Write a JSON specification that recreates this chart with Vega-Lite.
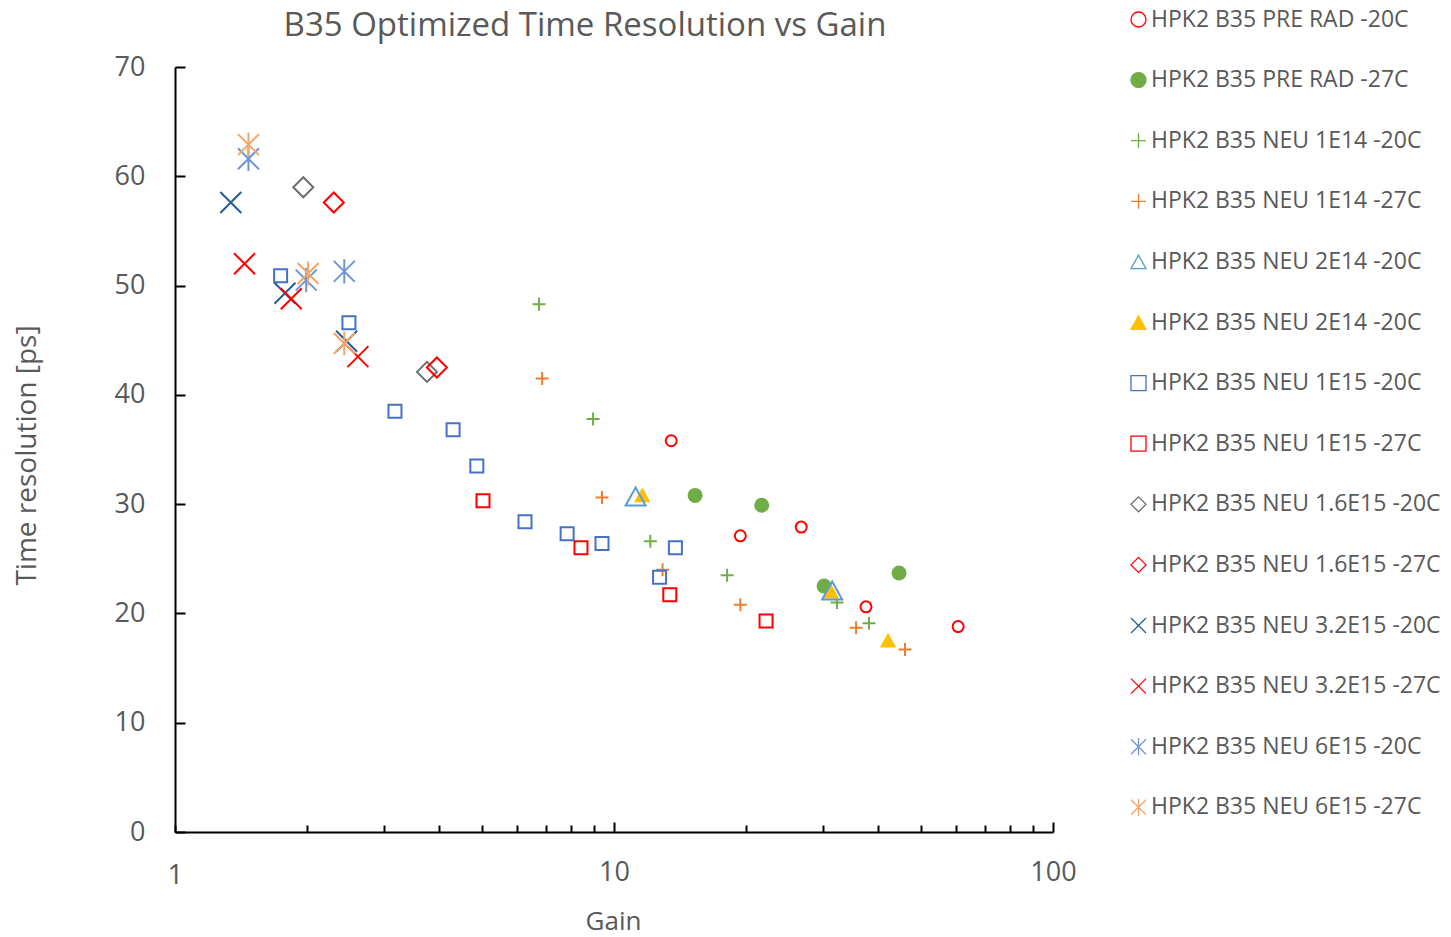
{
  "$schema": "https://vega.github.io/schema/vega-lite/v6.json",
  "autosize": {"type": "none"},
  "width": 878,
  "height": 765,
  "padding": {"left": 175, "top": 67, "right": 398, "bottom": 105},
  "background": "white",
  "title": {
    "text": "B35 Optimized Time Resolution vs Gain",
    "font": "Open Sans",
    "fontSize": 33,
    "fontWeight": "normal",
    "color": "#595959",
    "anchor": "middle",
    "frame": "group",
    "baseline": "alphabetic",
    "offset": -26,
    "dx": -29,
    "dy": 35
  },
  "data": {
    "values": [
      {"key": "01|HPK2 B35 PRE RAD -20C", "gain": 13.5, "res": 35.8},
      {"key": "01|HPK2 B35 PRE RAD -20C", "gain": 19.4, "res": 27.1},
      {"key": "01|HPK2 B35 PRE RAD -20C", "gain": 26.7, "res": 27.9},
      {"key": "01|HPK2 B35 PRE RAD -20C", "gain": 37.5, "res": 20.6},
      {"key": "01|HPK2 B35 PRE RAD -20C", "gain": 60.8, "res": 18.8},
      {"key": "02|HPK2 B35 PRE RAD -27C", "gain": 15.3, "res": 30.8},
      {"key": "02|HPK2 B35 PRE RAD -27C", "gain": 21.7, "res": 29.9},
      {"key": "02|HPK2 B35 PRE RAD -27C", "gain": 30.1, "res": 22.5},
      {"key": "02|HPK2 B35 PRE RAD -27C", "gain": 44.6, "res": 23.7},
      {"key": "03|HPK2 B35 NEU 1E14 -20C", "gain": 6.75, "res": 48.3},
      {"key": "03|HPK2 B35 NEU 1E14 -20C", "gain": 8.96, "res": 37.8},
      {"key": "03|HPK2 B35 NEU 1E14 -20C", "gain": 12.1, "res": 26.6},
      {"key": "03|HPK2 B35 NEU 1E14 -20C", "gain": 18.1, "res": 23.5},
      {"key": "03|HPK2 B35 NEU 1E14 -20C", "gain": 32.2, "res": 21.0},
      {"key": "03|HPK2 B35 NEU 1E14 -20C", "gain": 38.1, "res": 19.1},
      {"key": "04|HPK2 B35 NEU 1E14 -27C", "gain": 6.86, "res": 41.5},
      {"key": "04|HPK2 B35 NEU 1E14 -27C", "gain": 9.39, "res": 30.6},
      {"key": "04|HPK2 B35 NEU 1E14 -27C", "gain": 12.9, "res": 24.0},
      {"key": "04|HPK2 B35 NEU 1E14 -27C", "gain": 19.4, "res": 20.8},
      {"key": "04|HPK2 B35 NEU 1E14 -27C", "gain": 35.6, "res": 18.7},
      {"key": "04|HPK2 B35 NEU 1E14 -27C", "gain": 46.0, "res": 16.7},
      {"key": "05|HPK2 B35 NEU 2E14 -20C", "gain": 11.2, "res": 30.7},
      {"key": "05|HPK2 B35 NEU 2E14 -20C", "gain": 31.4, "res": 22.1},
      {"key": "06|HPK2 B35 NEU 2E14 -20C", "gain": 11.6, "res": 30.8},
      {"key": "06|HPK2 B35 NEU 2E14 -20C", "gain": 31.2, "res": 22.0},
      {"key": "06|HPK2 B35 NEU 2E14 -20C", "gain": 42.1, "res": 17.5},
      {"key": "07|HPK2 B35 NEU 1E15 -20C", "gain": 1.74, "res": 50.9},
      {"key": "07|HPK2 B35 NEU 1E15 -20C", "gain": 2.49, "res": 46.6},
      {"key": "07|HPK2 B35 NEU 1E15 -20C", "gain": 3.17, "res": 38.5},
      {"key": "07|HPK2 B35 NEU 1E15 -20C", "gain": 4.30, "res": 36.8},
      {"key": "07|HPK2 B35 NEU 1E15 -20C", "gain": 4.87, "res": 33.5},
      {"key": "07|HPK2 B35 NEU 1E15 -20C", "gain": 6.27, "res": 28.4},
      {"key": "07|HPK2 B35 NEU 1E15 -20C", "gain": 7.82, "res": 27.3},
      {"key": "07|HPK2 B35 NEU 1E15 -20C", "gain": 9.39, "res": 26.4},
      {"key": "07|HPK2 B35 NEU 1E15 -20C", "gain": 12.7, "res": 23.3},
      {"key": "07|HPK2 B35 NEU 1E15 -20C", "gain": 13.8, "res": 26.0},
      {"key": "08|HPK2 B35 NEU 1E15 -27C", "gain": 5.03, "res": 30.3},
      {"key": "08|HPK2 B35 NEU 1E15 -27C", "gain": 8.41, "res": 26.0},
      {"key": "08|HPK2 B35 NEU 1E15 -27C", "gain": 13.4, "res": 21.7},
      {"key": "08|HPK2 B35 NEU 1E15 -27C", "gain": 22.2, "res": 19.3},
      {"key": "09|HPK2 B35 NEU 1.6E15 -20C", "gain": 1.96, "res": 59.0},
      {"key": "09|HPK2 B35 NEU 1.6E15 -20C", "gain": 3.75, "res": 42.1},
      {"key": "10|HPK2 B35 NEU 1.6E15 -27C", "gain": 2.30, "res": 57.6},
      {"key": "10|HPK2 B35 NEU 1.6E15 -27C", "gain": 3.95, "res": 42.5},
      {"key": "11|HPK2 B35 NEU 3.2E15 -20C", "gain": 1.34, "res": 57.6},
      {"key": "11|HPK2 B35 NEU 3.2E15 -20C", "gain": 1.78, "res": 49.3},
      {"key": "11|HPK2 B35 NEU 3.2E15 -20C", "gain": 2.46, "res": 44.9},
      {"key": "12|HPK2 B35 NEU 3.2E15 -27C", "gain": 1.44, "res": 52.0},
      {"key": "12|HPK2 B35 NEU 3.2E15 -27C", "gain": 1.84, "res": 48.8},
      {"key": "12|HPK2 B35 NEU 3.2E15 -27C", "gain": 2.61, "res": 43.5},
      {"key": "13|HPK2 B35 NEU 6E15 -20C", "gain": 1.47, "res": 61.6},
      {"key": "13|HPK2 B35 NEU 6E15 -20C", "gain": 1.99, "res": 50.5},
      {"key": "13|HPK2 B35 NEU 6E15 -20C", "gain": 2.43, "res": 51.3},
      {"key": "14|HPK2 B35 NEU 6E15 -27C", "gain": 1.47, "res": 62.9},
      {"key": "14|HPK2 B35 NEU 6E15 -27C", "gain": 2.01, "res": 51.1},
      {"key": "14|HPK2 B35 NEU 6E15 -27C", "gain": 2.43, "res": 44.7}
    ]
  },
  "encoding": {
    "x": {
      "field": "gain",
      "type": "quantitative",
      "scale": {"type": "log", "domain": [1, 100], "nice": false},
      "axis": {
        "title": "Gain",
        "values": [1, 2, 3, 4, 5, 6, 7, 8, 9, 10, 20, 30, 40, 50, 60, 70, 80, 90, 100],
        "format": "d",
        "labelFlush": false,
        "labelExpr": "datum.value == 1 || datum.value == 10 || datum.value == 100 ? datum.label : ''",
        "tickSize": {"condition": {"test": "datum.value == 10 || datum.value == 100", "value": -10}, "value": -7},
        "labelPadding": 37,
        "titleX": 438,
        "titleY": 89,
        "titleBaseline": "middle",
        "titleAlign": "center"
      }
    },
    "y": {
      "field": "res",
      "type": "quantitative",
      "scale": {"domain": [0, 70], "nice": false, "zero": true},
      "axis": {
        "title": "Time resolution [ps]",
        "titleFontSize": 28,
        "values": [0, 10, 20, 30, 40, 50, 60, 70],
        "tickSize": -10,
        "labelPadding": 40,
        "titleX": -148,
        "titleY": 388,
        "titleBaseline": "middle",
        "titleAlign": "center"
      }
    },
    "stroke": {
      "field": "key",
      "type": "nominal",
      "scale": {
        "domain": [
          "01|HPK2 B35 PRE RAD -20C", "02|HPK2 B35 PRE RAD -27C", "03|HPK2 B35 NEU 1E14 -20C", "04|HPK2 B35 NEU 1E14 -27C",
          "05|HPK2 B35 NEU 2E14 -20C", "06|HPK2 B35 NEU 2E14 -20C", "07|HPK2 B35 NEU 1E15 -20C", "08|HPK2 B35 NEU 1E15 -27C",
          "09|HPK2 B35 NEU 1.6E15 -20C", "10|HPK2 B35 NEU 1.6E15 -27C", "11|HPK2 B35 NEU 3.2E15 -20C", "12|HPK2 B35 NEU 3.2E15 -27C",
          "13|HPK2 B35 NEU 6E15 -20C", "14|HPK2 B35 NEU 6E15 -27C"
        ],
        "range": ["#FF0000", "#70AD47", "#70AD47", "#ED7D31", "#5B9BD5", "#FFC000", "#4472C4", "#FF0000", "#6E6E6E", "#FF0000", "#255E91", "#FF0000", "#6F95D8", "#F2A66A"]
      },
      "legend": {
        "title": null,
        "orient": "none",
        "legendX": 952,
        "legendY": -59,
        "labelExpr": "split(datum.label, '|')[1]"
      }
    },
    "fill": {
      "field": "key",
      "type": "nominal",
      "scale": {
        "domain": [
          "01|HPK2 B35 PRE RAD -20C", "02|HPK2 B35 PRE RAD -27C", "03|HPK2 B35 NEU 1E14 -20C", "04|HPK2 B35 NEU 1E14 -27C",
          "05|HPK2 B35 NEU 2E14 -20C", "06|HPK2 B35 NEU 2E14 -20C", "07|HPK2 B35 NEU 1E15 -20C", "08|HPK2 B35 NEU 1E15 -27C",
          "09|HPK2 B35 NEU 1.6E15 -20C", "10|HPK2 B35 NEU 1.6E15 -27C", "11|HPK2 B35 NEU 3.2E15 -20C", "12|HPK2 B35 NEU 3.2E15 -27C",
          "13|HPK2 B35 NEU 6E15 -20C", "14|HPK2 B35 NEU 6E15 -27C"
        ],
        "range": ["transparent", "#70AD47", "transparent", "transparent", "transparent", "#FFC000", "transparent", "transparent", "transparent", "transparent", "transparent", "transparent", "transparent", "transparent"]
      },
      "legend": {
        "title": null,
        "orient": "none",
        "legendX": 952,
        "legendY": -59,
        "labelExpr": "split(datum.label, '|')[1]"
      }
    },
    "shape": {
      "field": "key",
      "type": "nominal",
      "scale": {
        "domain": [
          "01|HPK2 B35 PRE RAD -20C", "02|HPK2 B35 PRE RAD -27C", "03|HPK2 B35 NEU 1E14 -20C", "04|HPK2 B35 NEU 1E14 -27C",
          "05|HPK2 B35 NEU 2E14 -20C", "06|HPK2 B35 NEU 2E14 -20C", "07|HPK2 B35 NEU 1E15 -20C", "08|HPK2 B35 NEU 1E15 -27C",
          "09|HPK2 B35 NEU 1.6E15 -20C", "10|HPK2 B35 NEU 1.6E15 -27C", "11|HPK2 B35 NEU 3.2E15 -20C", "12|HPK2 B35 NEU 3.2E15 -27C",
          "13|HPK2 B35 NEU 6E15 -20C", "14|HPK2 B35 NEU 6E15 -27C"
        ],
        "range": [
          "circle", "circle",
          "M-1,0L1,0M0,-1L0,1", "M-1,0L1,0M0,-1L0,1",
          "M0,-0.9L1,0.9L-1,0.9Z", "M0,-0.9L1,0.9L-1,0.9Z",
          "square", "square",
          "diamond", "diamond",
          "M-1,-1L1,1M-1,1L1,-1", "M-1,-1L1,1M-1,1L1,-1",
          "M-1,-1L1,1M-1,1L1,-1M0,-1.15L0,1.15", "M-1,-1L1,1M-1,1L1,-1M0,-1.15L0,1.15"
        ]
      },
      "legend": {
        "title": null,
        "orient": "none",
        "legendX": 952,
        "legendY": -59,
        "labelExpr": "split(datum.label, '|')[1]"
      }
    }
  },
  "layer": [
    {
      "transform": [{"filter": {"field": "key", "oneOf": ["01|HPK2 B35 PRE RAD -20C"]}}],
      "mark": {"type": "point", "opacity": 1, "strokeWidth": 2, "size": 121}
    },
    {
      "transform": [{"filter": {"field": "key", "oneOf": [
        "02|HPK2 B35 PRE RAD -27C", "03|HPK2 B35 NEU 1E14 -20C", "04|HPK2 B35 NEU 1E14 -27C",
        "06|HPK2 B35 NEU 2E14 -20C", "07|HPK2 B35 NEU 1E15 -20C", "08|HPK2 B35 NEU 1E15 -27C"
      ]}}],
      "mark": {"type": "point", "opacity": 1, "strokeWidth": 2, "size": 169}
    },
    {
      "transform": [{"filter": {"field": "key", "oneOf": [
        "05|HPK2 B35 NEU 2E14 -20C", "09|HPK2 B35 NEU 1.6E15 -20C", "10|HPK2 B35 NEU 1.6E15 -27C"
      ]}}],
      "mark": {"type": "point", "opacity": 1, "strokeWidth": 2, "size": 400}
    },
    {
      "transform": [{"filter": {"field": "key", "oneOf": [
        "11|HPK2 B35 NEU 3.2E15 -20C", "12|HPK2 B35 NEU 3.2E15 -27C", "13|HPK2 B35 NEU 6E15 -20C", "14|HPK2 B35 NEU 6E15 -27C"
      ]}}],
      "mark": {"type": "point", "opacity": 1, "strokeWidth": 2, "size": 441}
    }
  ],
  "config": {
    "view": {"stroke": null},
    "axis": {
      "grid": false,
      "domainColor": "#000000",
      "domainWidth": 2,
      "tickColor": "#000000",
      "tickWidth": 2,
      "labelFont": "Open Sans",
      "labelFontSize": 27,
      "labelColor": "#595959",
      "titleFont": "Open Sans",
      "titleFontSize": 26,
      "titleFontWeight": "normal",
      "titleColor": "#595959"
    },
    "legend": {
      "labelFont": "Open Sans",
      "labelFontSize": 23,
      "labelColor": "#595959",
      "labelLimit": 400,
      "labelOffset": 1,
      "symbolSize": 225,
      "symbolStrokeWidth": 1.3,
      "rowPadding": 36.6
    }
  }
}
